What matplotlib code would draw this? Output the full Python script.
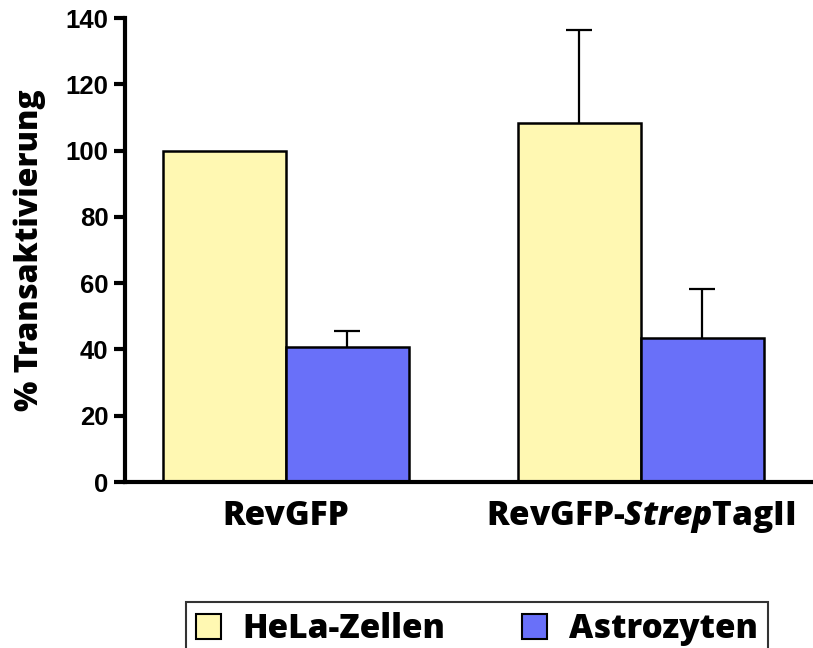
import matplotlib
matplotlib.use("Agg")
import matplotlib.pyplot as plt
from matplotlib.patches import Patch
import numpy as np

# Data
constructs = ["RevGFP", r"RevGFP-$\mathit{Strep}$TagII"]
hela_mean = [100.0, 108.3]
hela_err = [0.0, 28.0]
astro_mean = [40.7, 43.4]
astro_err = [4.9, 14.8]
series_names = ["HeLa-Zellen", "Astrozyten"]
yticks = [0, 20, 40, 60, 80, 100, 120, 140]

hela_color = "#FFF8B2"
astro_color = "#6970F9"

plt.rcParams["mathtext.fontset"] = "custom"
plt.rcParams["mathtext.rm"] = "Open Sans:weight=800"
plt.rcParams["mathtext.it"] = "Open Sans:style=italic:weight=800"
plt.rcParams["mathtext.bf"] = "Open Sans:weight=800"

label_family = "Open Sans"
label_weight = 800

fig = plt.figure(figsize=(8.13, 6.48), dpi=100)
ax = fig.add_axes([125 / 813, 1 - 482 / 648, 1 - 125 / 813, (482 - 18) / 648])

width = 1.0
centers = np.array([0.0, 2.886])


def draw_series(xpos, means, errs, color):
    ax.bar(xpos, means, width, color=color, edgecolor="black", linewidth=1.8, zorder=2)
    means = np.asarray(means)
    errs = np.asarray(errs)
    keep = errs > 0
    if keep.any():
        # upward-only error bars: drop the lower cap
        _, caps, _ = ax.errorbar(xpos[keep], means[keep],
                                 yerr=[np.zeros(keep.sum()), errs[keep]], fmt="none",
                                 ecolor="black", elinewidth=1.6, capsize=9.5,
                                 capthick=1.6, zorder=1)
        caps[0].remove()


draw_series(centers - width / 2, hela_mean, hela_err, hela_color)
draw_series(centers + width / 2, astro_mean, astro_err, astro_color)

ax.set_xlim(-1.309, 4.285)
ax.set_ylim(0, 140)
ax.set_yticks(yticks)
ax.set_yticklabels([str(t) for t in yticks], fontfamily="Liberation Sans",
                   fontweight="bold", fontsize=18.5)
ax.set_xticks(centers)
ax.set_xticklabels(constructs, fontsize=24, fontfamily=label_family,
                   fontweight=label_weight)

for s in ["top", "right"]:
    ax.spines[s].set_visible(False)
for s in ["left", "bottom"]:
    ax.spines[s].set_linewidth(3)
ax.tick_params(axis="y", length=8, width=3, pad=4)
ax.tick_params(axis="x", length=0, pad=12)

ax.set_ylabel("% Transaktivierung", fontfamily=label_family,
              fontweight=label_weight, fontsize=23, labelpad=14)

handles = [Patch(facecolor=hela_color, edgecolor="black", linewidth=1.5),
           Patch(facecolor=astro_color, edgecolor="black", linewidth=1.5)]
leg = fig.legend(handles, series_names, loc="upper left",
                 bbox_to_anchor=(186 / 813, 1 - 602 / 648), ncol=2,
                 prop={"family": label_family, "weight": label_weight, "size": 24},
                 frameon=True, fancybox=False, edgecolor="black",
                 handlelength=0.75, handleheight=0.75, handletextpad=0.65,
                 columnspacing=2.3, borderpad=0.3, borderaxespad=0)
leg.get_frame().set_linewidth(1.5)

fig.savefig("out.png", dpi=100)
